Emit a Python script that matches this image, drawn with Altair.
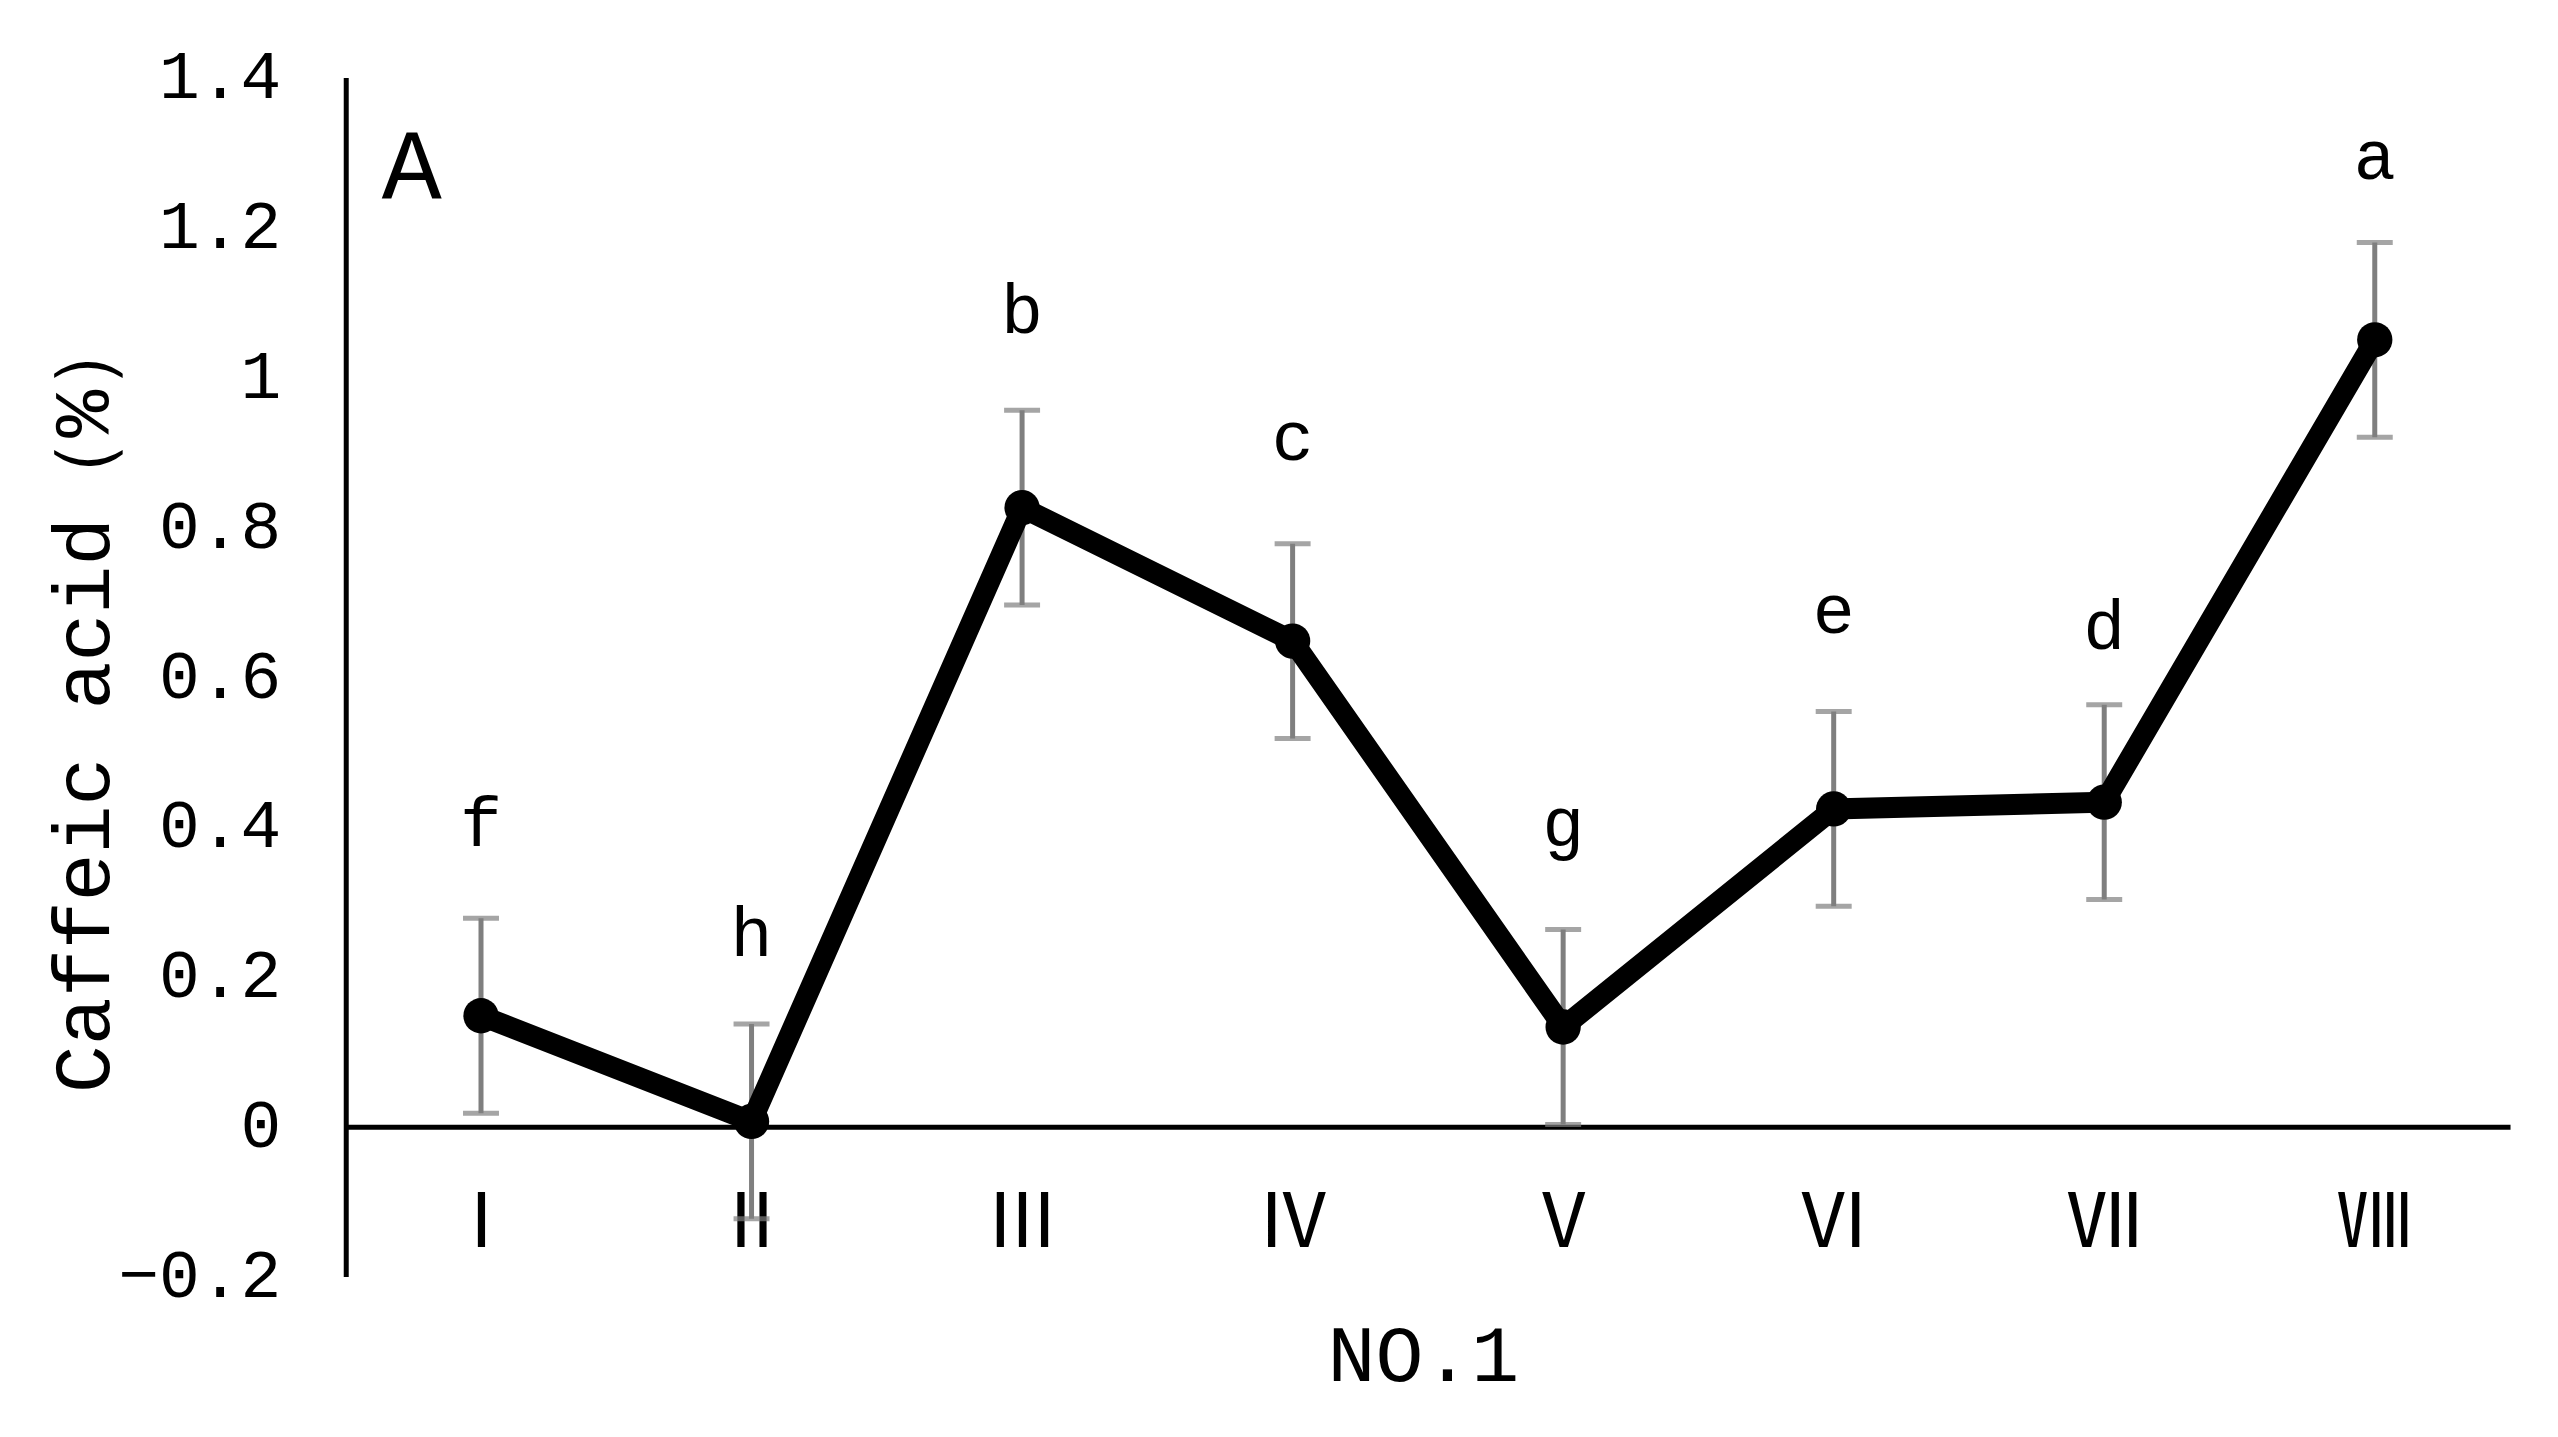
import altair as alt
import pandas as pd

categories = ["Ⅰ", "Ⅱ", "Ⅲ", "Ⅳ", "Ⅴ", "Ⅵ", "Ⅶ", "Ⅷ"]
means = [0.148, 0.007, 0.826, 0.648, 0.133, 0.424, 0.433, 1.050]
errors = [0.13, 0.13, 0.13, 0.13, 0.13, 0.13, 0.13, 0.13]
letters = ["f", "h", "b", "c", "g", "e", "d", "a"]
letter_y = [0.374, 0.228, 1.059, 0.889, 0.374, 0.659, 0.637, 1.265]
y_ticks = [-0.2, 0, 0.2, 0.4, 0.6, 0.8, 1.0, 1.2, 1.4]

df = pd.DataFrame({
    "cat": categories,
    "mean": means,
    "lo": [m - e for m, e in zip(means, errors)],
    "hi": [m + e for m, e in zip(means, errors)],
    "letter": letters,
    "ly": letter_y,
})

FONT = "Liberation Mono"
W, H = 2166, 1200

xscale = alt.Scale(type="point", padding=0.5, domain=categories)
yscale = alt.Scale(domain=[-0.2, 1.4], nice=False, zero=False)

x_enc = alt.X(
    "cat:N", sort=categories, scale=xscale,
    axis=alt.Axis(
        title="NO.1", orient="bottom", offset=-150, domain=True,
        domainColor="black", domainWidth=5, ticks=False, grid=False,
        labelFontSize=75, labelFont="Noto Sans CJK SC", labelColor="black",
        labelPadding=61, labelAngle=0,
        titleFont=FONT, titleFontSize=80, titleFontWeight="normal",
        titleColor="black", titleX=1078, titleY=230, titleBaseline="middle",
        titleAlign="center",
    ),
)

y_axis = alt.Axis(
    title="Caffeic acid（%）", values=y_ticks, format="~g",
    domain=True, domainColor="black", domainWidth=5, ticks=False, grid=False,
    labelFont=FONT, labelFontSize=68, labelColor="black", labelPadding=65,
    titleFont=FONT, titleFontSize=80, titleFontWeight="normal",
    titleColor="black", titleX=-261, titleY=624, titleAngle=270,
    titleAlign="center", titleBaseline="middle",
)

base = alt.Chart(df)

err_rule = base.mark_rule(color="#7f7f7f", strokeWidth=5).encode(
    x=x_enc,
    y=alt.Y("lo:Q", scale=yscale, axis=y_axis),
    y2="hi:Q",
)
cap_lo = base.mark_tick(color="#7f7f7f", thickness=5, size=36).encode(
    x=alt.X("cat:N", sort=categories), y="lo:Q"
)
cap_hi = base.mark_tick(color="#7f7f7f", thickness=5, size=36).encode(
    x=alt.X("cat:N", sort=categories), y="hi:Q"
)
line = base.mark_line(color="black", strokeWidth=21).encode(
    x=alt.X("cat:N", sort=categories), y="mean:Q"
)
pts = base.mark_circle(color="black", opacity=1, size=1250).encode(
    x=alt.X("cat:N", sort=categories), y="mean:Q"
)
txt = base.mark_text(font=FONT, fontSize=70, color="black",
                     baseline="alphabetic", align="center").encode(
    x=alt.X("cat:N", sort=categories), y="ly:Q", text="letter:N"
)

chart = alt.layer(err_rule, cap_lo, cap_hi, line, pts, txt).properties(
    width=W, height=H,
    title=alt.TitleParams(text="A", anchor="start", frame="group", offset=0,
                          font=FONT, fontSize=100, fontWeight="normal",
                          color="black", baseline="middle", dx=36, dy=226),
    autosize=alt.AutoSizeParams(type="none"),
    padding={"left": 338, "top": 69, "right": 40, "bottom": 160},
).configure(
    background="white",
    view=alt.ViewConfig(strokeWidth=0, stroke="transparent"),
)

chart.save("out.html", embed_options={"renderer": "svg", "actions": False})
